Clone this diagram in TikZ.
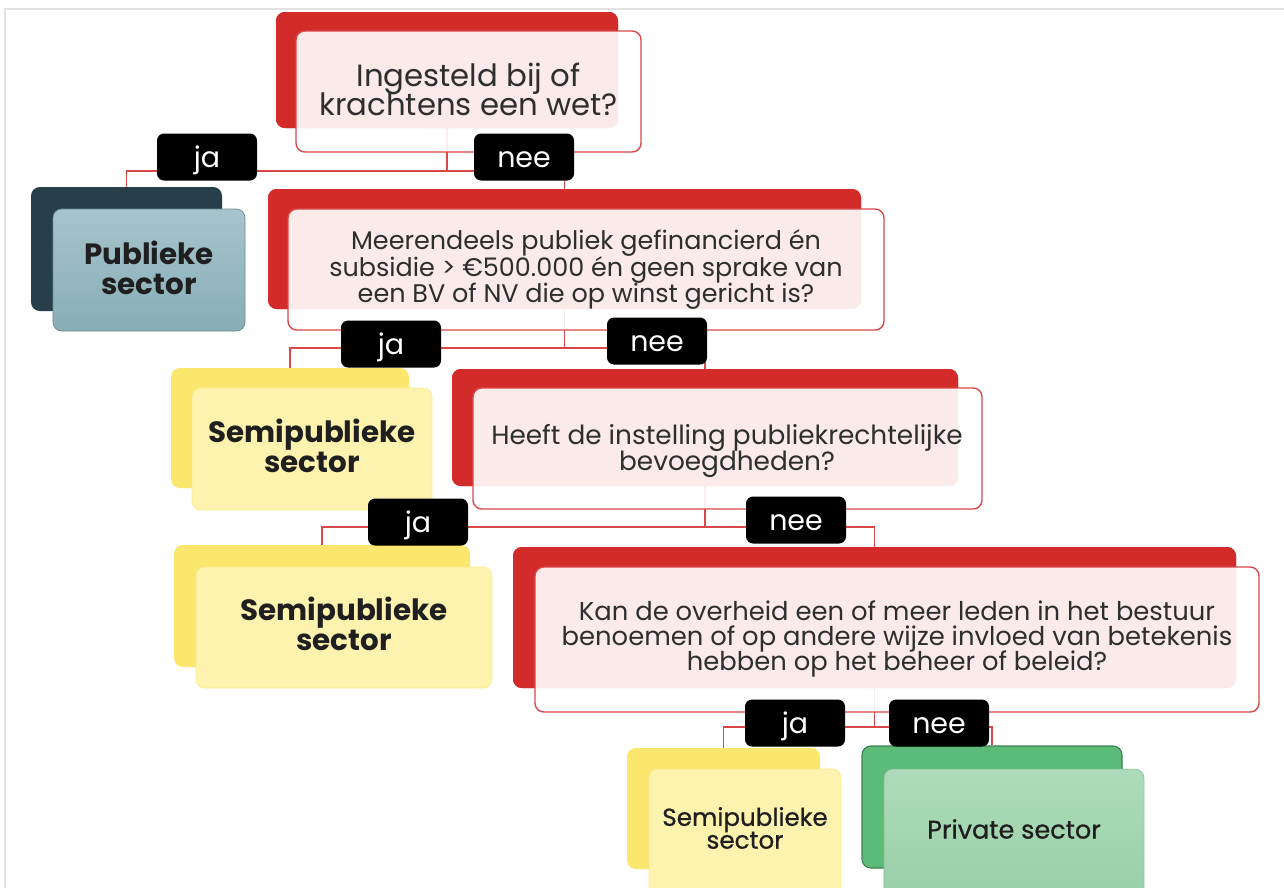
\documentclass[tikz,border=0pt]{standalone}
\usepackage{fontspec}
\setmainfont{Poppins}
\newfontfamily\popmed{Poppins}[FakeBold=0.8]
\usetikzlibrary{fit,calc}
\definecolor{qred}{HTML}{D32A2A}
\definecolor{lred}{HTML}{D84848}
\definecolor{txt}{HTML}{2E2E2E}
\definecolor{pubback}{HTML}{263F48}
\definecolor{pubtop}{HTML}{A7C4CC}
\definecolor{pubbot}{HTML}{87ADB6}
\definecolor{yelback}{HTML}{FBE66E}
\definecolor{yelfront}{HTML}{FDF2AE}
\definecolor{grnback}{HTML}{5DBB7A}
\definecolor{grnline}{HTML}{3A7F50}
\definecolor{grntop}{HTML}{AEDBBA}
\definecolor{grnbot}{HTML}{96CFA6}
\definecolor{framegray}{HTML}{E2E2E2}
\begin{document}
\lineskiplimit=-20pt
\begin{tikzpicture}[x=0.02cm,y=-0.02cm,
  box/.style={rounded corners=5pt, inner sep=0pt},
  qback/.style={box, fill=qred},
  qfront/.style={box, fill=white, fill opacity=0.9, draw=lred, draw opacity=1, line width=0.8pt},
  qtext/.style={text=txt, align=center, inner sep=0pt},
  pubbackbox/.style={box, fill=pubback},
  pubfront/.style={box, top color=pubtop, bottom color=pubbot, draw=pubbot!80!black, line width=0.4pt},
  btext/.style={text=black!88, align=center, inner sep=0pt, font=\bfseries\fontsize{16.7}{17}\selectfont},
  mtext/.style={text=black!88, align=center, inner sep=0pt, font=\popmed\fontsize{14}{13}\selectfont},
  yback/.style={box, fill=yelback},
  yfront/.style={box, fill=yelfront, draw=yelback!80!white, line width=0.4pt},
  gback/.style={box, fill=grnback, draw=grnline, line width=0.6pt},
  gfront/.style={box, top color=grntop, bottom color=grnbot, draw=grnbot!90!black, line width=0.3pt},
  lab/.style={rounded corners=4pt, fill=black, text=white, minimum width=100*0.02cm, minimum height=47*0.02cm, inner sep=0pt, text height=11.6pt, text depth=0pt, font=\fontsize{16.2}{17}\selectfont},
  conn/.style={draw=lred, line width=1pt}
]
\useasboundingbox (0,0) rectangle (1284,887);
\draw[framegray, line width=0.8pt] (5,9) rectangle (1295,900);

% back boxes
\node[qback, fit={(276,12) (618,128)}] (q1b) {};
\node[qback, fit={(268,189) (861,309)}] (q2b) {};
\node[qback, fit={(452,369) (958,486)}] (q3b) {};
\node[qback, fit={(513,547) (1236,688)}] (q4b) {};
\node[pubbackbox, fit={(31,187) (222,311)}] (pubb) {};
\node[yback, fit={(171,368) (409,488)}] (s1b) {};
\node[yback, fit={(174,545) (470,667)}] (s2b) {};
\node[yback, fit={(627,748) (820,869)}] (s3b) {};
\node[gback, fit={(862,746) (1122,868)}] (prb) {};

% connectors
\draw[conn] (q1b.south) -- (q1b.south |- 0,171) coordinate (j1) -| (pubb.north);
\draw[conn] (j1) -| (q2b.north);
\draw[conn] (q2b.south) -- (q2b.south |- 0,348) coordinate (j2) -| (s1b.north);
\draw[conn] (j2) -| (q3b.north);
\draw[conn] (q3b.south) -- (q3b.south |- 0,527) coordinate (j3) -| (s2b.north);
\draw[conn] (j3) -| (q4b.north);
\draw[conn] (q4b.south) -- (q4b.south |- 0,727) coordinate (j4) -| (s3b.north);
\draw[conn] (j4) -| (prb.north);

% redraw back boxes over connector ends
\fill[qred, rounded corners=5pt] (276,12) rectangle (618,128);
\fill[qred, rounded corners=5pt] (268,189) rectangle (861,309);
\fill[qred, rounded corners=5pt] (452,369) rectangle (958,486);
\fill[qred, rounded corners=5pt] (513,547) rectangle (1236,688);

% front boxes
\node[qfront, fit={(296,31) (641,152)}] (q1) {};
\node[qfront, fit={(288,209) (884,330)}] (q2) {};
\node[qfront, fit={(473,388) (982,509)}] (q3) {};
\node[qfront, fit={(535,567) (1259,712)}] (q4) {};
\node[pubfront, fit={(53,209) (245,331)}] (pub) {};
\node[yfront, fit={(192,388) (432,510)}] (s1) {};
\node[yfront, fit={(196,567) (492,688)}] (s2) {};
\node[yfront, fit={(649,769) (841,905)}] (s3) {};
\node[gfront, fit={(884,769) (1144,905)}] (pr) {};

% texts
\node[qtext, font=\fontsize{17.5}{16.5}\selectfont] (q1t) at (468.5,89.5) {Ingesteld bij of\\krachtens een wet?};
\node[qtext, font=\fontsize{14.5}{15.3}\selectfont] (q2t) at (586,269.5) {Meerendeels publiek gefinancierd én\\subsidie > €500.000 én geen sprake van\\een BV of NV die op winst gericht is?};
\node[qtext, font=\fontsize{15}{14.8}\selectfont] (q3t) at (727,451) {Heeft de instelling publiekrechtelijke\\bevoegdheden?};
\node[qtext, font=\fontsize{14.7}{14.2}\selectfont] (q4t) at (897,639) {Kan de overheid een of meer leden in het bestuur\\benoemen of op andere wijze invloed van betekenis\\hebben op het beheer of beleid?};
\node[btext] (pubt) at (149,268) {Publieke\\sector};
\node[btext] (s1t) at (312,446) {Semipublieke\\sector};
\node[btext] (s2t) at (344,624) {Semipublieke\\sector};
\node[mtext] (s3t) at (745,828) {Semipublieke\\sector};
\node[mtext, font=\popmed\fontsize{14.5}{14}\selectfont] (prt) at (1014,829) {Private sector};

% labels
\node[lab] (l1j) at (207,157) {ja};
\node[lab] (l1n) at (524,157) {nee};
\node[lab] (l2j) at (391,344) {ja};
\node[lab] (l2n) at (657,341) {nee};
\node[lab] (l3j) at (418,522) {ja};
\node[lab] (l3n) at (796,520) {nee};
\node[lab] (l4j) at (795,723) {ja};
\node[lab] (l4n) at (939,723) {nee};
\end{tikzpicture}
\end{document}
